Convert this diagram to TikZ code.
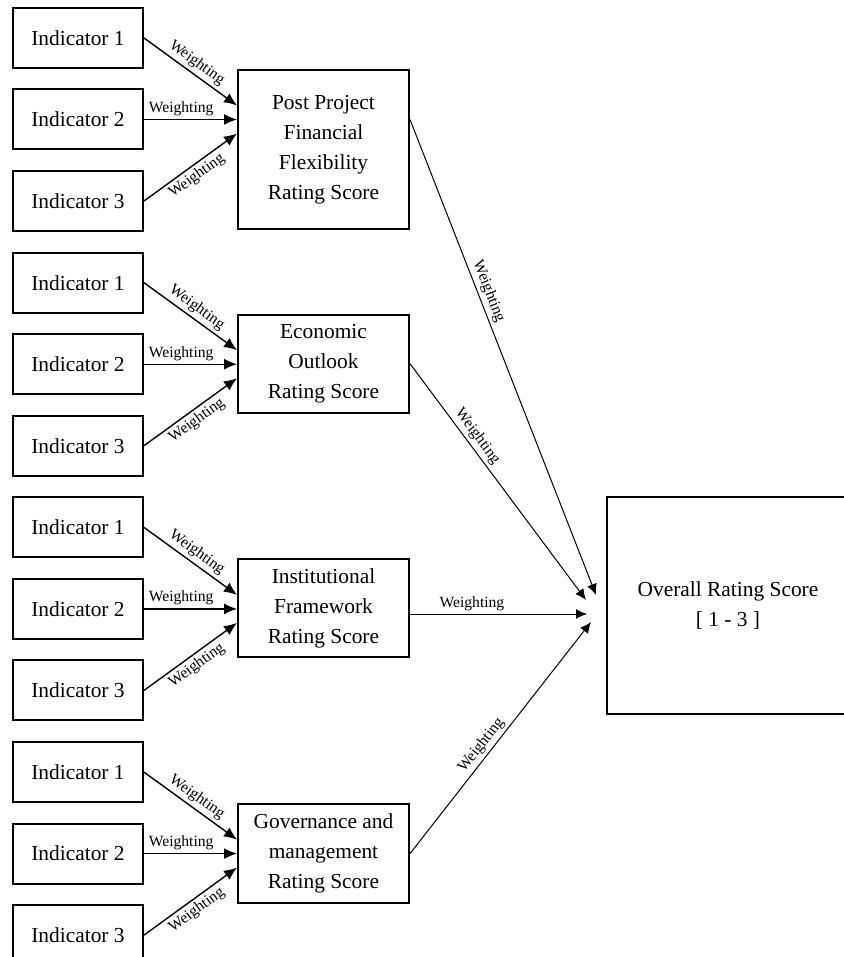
\documentclass[tikz,border=0pt]{standalone}
\usepackage{fontspec}
\setmainfont{Liberation Serif}
\usetikzlibrary{positioning,arrows.meta}
\tikzset{
  indbox/.style={draw, line width=1pt, minimum width=65pt, minimum height=30pt, inner sep=2pt},
  ratebox/.style={draw, line width=1pt, minimum width=85.5pt, align=center, inner sep=2pt},
  wlabel/.style={font=\fontsize{7.8}{9}\selectfont, inner sep=1.5pt},
  warrow/.style={-{Latex[length=6.5pt,width=5.5pt]}, line width=0.7pt},
  tarrow/.style={-{Latex[length=5.5pt,width=5pt]}, line width=0.5pt}
}
\begin{document}
\begin{tikzpicture}[x=0.5pt, y=-0.5pt, font=\fontsize{10.7}{15}\selectfont, node distance=9.75pt]
  \useasboundingbox (0,0) rectangle (843,957);
  % four groups of indicators feeding a rating box
  \foreach \g/\h/\txt in {1/79.5pt/{Post Project\\Financial\\Flexibility\\Rating Score},
      2/49pt/{Economic\\Outlook\\Rating Score},
      3/49pt/{Institutional\\Framework\\Rating Score},
      4/49.5pt/{Governance and\\management\\Rating Score}}{
    \pgfmathsetmacro\t{38+244.7*(\g-1)}
    \node[indbox] (i\g1) at (78,\t) {Indicator 1};
    \node[indbox, below=of i\g1] (i\g2) {Indicator 2};
    \node[indbox, below=of i\g2] (i\g3) {Indicator 3};
    \node[ratebox, minimum height=\h, below right=0pt and 46.5pt of i\g1] (r\g) {\txt};
    \coordinate (e\g) at (r\g.west |- i\g2.east);
    \draw[warrow] (i\g1.east) -- ([yshift=7pt]e\g) node[wlabel, midway, sloped, above] {Weighting};
    \draw[warrow] (i\g2.east) -- (e\g) node[wlabel, pos=0.4, above] {Weighting};
    \draw[warrow] (i\g3.east) -- ([yshift=-7pt]e\g) node[wlabel, midway, sloped, below] {Weighting};
  }
  \node[draw, line width=1pt, minimum width=121pt, minimum height=108.5pt, align=center] (tot) at (728,605.5) {Overall Rating Score\\{[ 1 - 3 ]}};
  \coordinate (t3) at ([xshift=-9.5pt,yshift=-4.25pt]tot.west);
  % rating boxes into the overall score
  \draw[tarrow] ([yshift=15pt]r1.east) -- ([xshift=-5pt,yshift=5.25pt]tot.west) node[wlabel, pos=0.37, sloped, above] {Weighting};
  \draw[tarrow] (r2.east) -- ([xshift=-10pt,yshift=2.75pt]tot.west) node[wlabel, pos=0.335, sloped, above] {Weighting};
  \draw[tarrow] (r3.east |- t3) -- (t3) node[wlabel, pos=0.35, above] {Weighting};
  \draw[tarrow] (r4.east) -- ([xshift=-7.5pt,yshift=-8.25pt]tot.west) node[wlabel, pos=0.44, sloped, above] {Weighting};
\end{tikzpicture}
\end{document}
